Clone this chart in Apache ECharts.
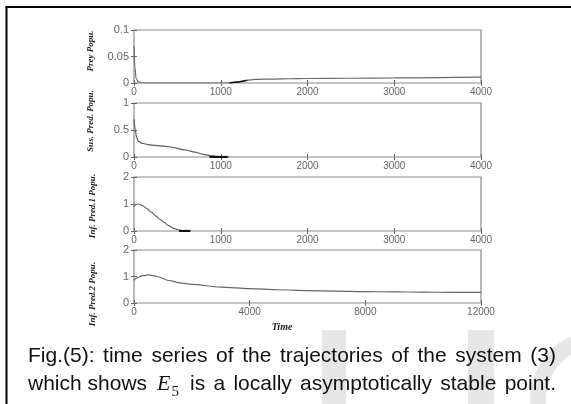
<!DOCTYPE html>
<html>
<head>
<meta charset="utf-8">
<script src="https://cdn.jsdelivr.net/npm/echarts@6/dist/echarts.min.js"></script>
<style>
  html, body { margin: 0; padding: 0; background: #fff; }
  #main { width: 571px; height: 404px; }
</style>
</head>
<body>
<div id="main"></div>
<script>
// time series, [t, value]
var preyPopu = [[0, 0.07], [10, 0.03], [25, 0.008], [50, 0.002], [100, 0], [600, 0], [1100, 0], [1200, 0.002],
  [1300, 0.005], [1400, 0.0068], [1600, 0.0075], [1800, 0.008], [2000, 0.0085], [2500, 0.009],
  [3000, 0.0095], [3500, 0.0102], [4000, 0.011]];
var preyDark = [[1100, 0], [1200, 0.002], [1300, 0.005]];

var susPred = [[0, 0.7], [15, 0.5], [30, 0.36], [50, 0.29], [100, 0.25], [200, 0.22], [400, 0.19],
  [600, 0.13], [700, 0.09], [800, 0.05], [900, 0.02], [1000, 0.005], [1100, 0]];
var susDark = [[870, 0], [1080, 0]];

var infPred1 = [[0, 0.9], [20, 0.98], [50, 1.0], [100, 0.94], [150, 0.83], [200, 0.7], [250, 0.56],
  [300, 0.43], [350, 0.31], [400, 0.2], [450, 0.11], [500, 0.05], [550, 0.015], [600, 0], [650, 0]];
var inf1Dark = [[520, 0], [650, 0]];

var infPred2 = [[0, 0.85], [100, 0.95], [300, 1.03], [500, 1.06], [800, 1.0], [1200, 0.85], [1600, 0.76],
  [2000, 0.7], [3000, 0.6], [4000, 0.54], [5000, 0.5], [6000, 0.47], [7000, 0.45], [8000, 0.43],
  [9000, 0.42], [10000, 0.41], [11000, 0.40], [12000, 0.40]];

// axis ticks
var xTicksShort = [0, 1000, 2000, 3000, 4000];
var xTicksLong = [0, 4000, 8000, 12000];
var yTicks1 = [0, 0.05, 0.1];
var yTicks2 = [0, 0.5, 1];
var yTicks3 = [0, 1, 2];
var yTicks4 = [0, 1, 2];

var yNames = ['Prey Popu.', 'Sus. Pred. Popu.', 'Inf. Pred.1 Popu.', 'Inf. Pred.2 Popu.'];
var captionLine1 = 'Fig.(5): time series of the trajectories of the system (3)';
var captionLine2a = 'which shows';
var captionLine2b = 'is a locally asymptotically stable point.';

var grids = [
  { left: 134, top: 30, width: 347, height: 53 },
  { left: 134, top: 103, width: 347, height: 54 },
  { left: 134, top: 177, width: 347, height: 54 },
  { left: 134, top: 250, width: 347, height: 53 }
];
var xTickSets = [xTicksShort, xTicksShort, xTicksShort, xTicksLong];
var yTickSets = [yTicks1, yTicks2, yTicks3, yTicks4];

var tickFont = '"Liberation Sans", Arial, sans-serif';
var axisGray = '#8a8a8a';

function xAxisFor(gi, pos) {
  var t = xTickSets[gi];
  return {
    type: 'value', gridIndex: gi, position: pos,
    min: t[0], max: t[t.length - 1], interval: t[1] - t[0],
    axisLine: { show: false },
    axisTick: { inside: true, length: 3, lineStyle: { color: '#666' } },
    axisLabel: { show: pos === 'bottom', color: '#666', fontSize: 10, fontFamily: tickFont, margin: 4,
      formatter: function (v) { return String(v); } },
    splitLine: { show: false }
  };
}
function yAxisFor(gi, pos) {
  var t = yTickSets[gi];
  return {
    type: 'value', gridIndex: gi, position: pos,
    min: t[0], max: t[t.length - 1], interval: t[1] - t[0],
    axisLine: { show: false },
    axisTick: { inside: true, length: 3, lineStyle: { color: '#666' } },
    axisLabel: { show: pos === 'left', color: '#666', fontSize: 11, fontFamily: tickFont, margin: 5,
      formatter: function (v) { return String(v); } },
    splitLine: { show: false }
  };
}

var xAxes = [], yAxes = [];
for (var i = 0; i < 4; i++) {
  xAxes.push(xAxisFor(i, 'bottom'), xAxisFor(i, 'top'));
  yAxes.push(yAxisFor(i, 'left'), yAxisFor(i, 'right'));
}

function lineSeries(gi, data, color, width) {
  return {
    type: 'line', xAxisIndex: gi * 2, yAxisIndex: gi * 2, data: data,
    showSymbol: false, smooth: 0.3, smoothMonotone: 'x',
    lineStyle: { color: color, width: width }, silent: true, animation: false
  };
}

// lay caption words out justified like the scanned text
var ctx = document.createElement('canvas').getContext('2d');
function measure(w, font) { ctx.font = font; return ctx.measureText(w).width; }
function justified(words, font, x0, x1, y) {
  var widths = words.map(function (w) { return measure(w, font); });
  var sum = widths.reduce(function (a, b) { return a + b; }, 0);
  var gap = (x1 - x0 - sum) / (words.length - 1);
  var x = x0, out = [];
  words.forEach(function (w, k) {
    out.push({ type: 'text', x: x, y: y, z: 10,
      style: { text: w, font: font, fill: '#111', align: 'left', verticalAlign: 'middle' } });
    x += widths[k] + gap;
  });
  return out;
}

var capFont = '21px "Liberation Sans"';
var eFont = 'italic 22px "Liberation Serif"';
var subFont = '15px "Liberation Serif"';
var line2aEnd = 28 + measure(captionLine2a, capFont);
var eX = line2aEnd + 10;
var subX = eX + measure('E', eFont) + 1;
var line2bStart = subX + measure('5', subFont) + 11;

var graphics = [
  // faint watermark shapes
  { type: 'rect', z: 0, shape: { x: 322, y: 330, width: 24, height: 74 }, style: { fill: '#e6e6e6' } },
  { type: 'rect', z: 0, shape: { x: 468, y: 330, width: 26, height: 74 }, style: { fill: '#e6e6e6' } },
  { type: 'ring', z: 0, shape: { cx: 600, cy: 400, r: 70, r0: 54 }, style: { fill: '#e6e6e6' } },
  // frame
  { type: 'line', z: 5, shape: { x1: 6.5, y1: 6, x2: 6.5, y2: 404 }, style: { stroke: '#000', lineWidth: 2 } },
  { type: 'line', z: 5, shape: { x1: 5.5, y1: 7, x2: 571, y2: 7 }, style: { stroke: '#000', lineWidth: 2 } },
  { type: 'text', x: 282, y: 327, style: { text: 'Time', font: 'italic bold 10px "Liberation Serif"', fill: '#222', align: 'center', verticalAlign: 'middle' } },
  { type: 'text', x: 28, y: 384, z: 10, style: { text: captionLine2a, font: capFont, fill: '#111', align: 'left', verticalAlign: 'middle' } },
  { type: 'text', x: eX, y: 384, z: 10, style: { text: 'E', font: eFont, fill: '#111', align: 'left', verticalAlign: 'middle' } },
  { type: 'text', x: subX, y: 392, z: 10, style: { text: '5', font: subFont, fill: '#111', align: 'left', verticalAlign: 'middle' } }
];
var yNamePos = [[91, 51], [91, 121], [93, 206], [93, 294]];
yNames.forEach(function (n, k) {
  graphics.push({ type: 'text', x: yNamePos[k][0], y: yNamePos[k][1], rotation: Math.PI / 2,
    style: { text: n, font: 'italic bold 9px "Liberation Serif"', fill: '#222', align: 'center', verticalAlign: 'middle' } });
});
graphics = graphics.concat(justified(captionLine1.split(' '), capFont, 28, 556, 356));
graphics = graphics.concat(justified(captionLine2b.split(' '), capFont, line2bStart, 556, 384));

var chart = echarts.init(document.getElementById('main'));
chart.setOption({
  animation: false,
  grid: grids.map(function (g) {
    return Object.assign({ show: true, borderColor: axisGray, borderWidth: 1.2, backgroundColor: 'transparent' }, g);
  }),
  xAxis: xAxes,
  yAxis: yAxes,
  series: [
    lineSeries(0, preyPopu, '#6a6a6a', 1.2),
    lineSeries(0, preyDark, '#111', 1.6),
    lineSeries(1, susPred, '#5a5a5a', 1.2),
    lineSeries(1, susDark, '#111', 2.2),
    lineSeries(2, infPred1, '#666', 1.2),
    lineSeries(2, inf1Dark, '#111', 2.2),
    lineSeries(3, infPred2, '#666', 1.2)
  ],
  graphic: graphics
});
</script>
</body>
</html>
